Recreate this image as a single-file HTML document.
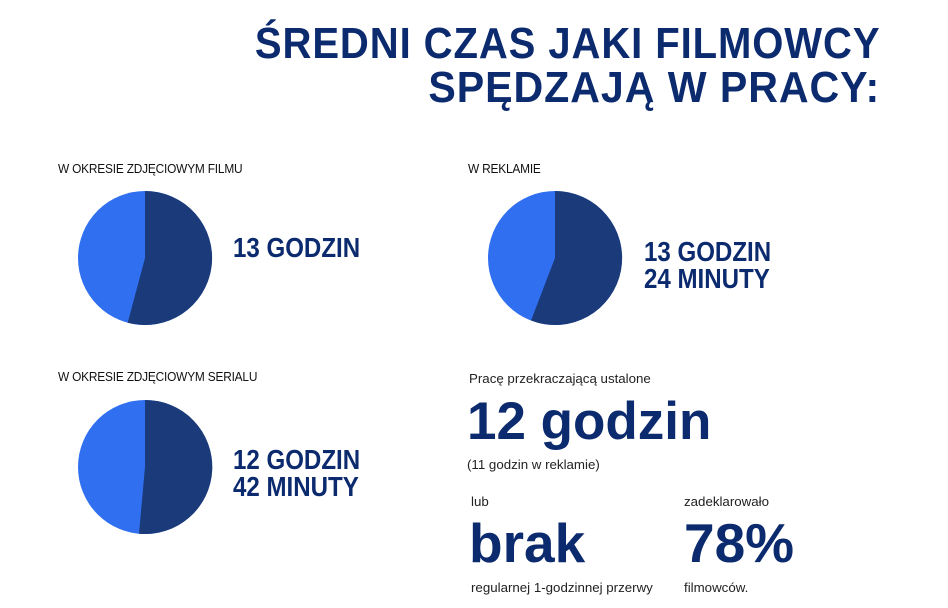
<!DOCTYPE html>
<html><head><meta charset="utf-8"><style>
body{margin:0;width:948px;height:608px;background:#fff;overflow:hidden;position:relative;font-family:"Liberation Sans",sans-serif;color:#0c2a6e}
.a{position:absolute;white-space:nowrap}
.t{font-weight:bold;font-size:44px;right:68px;text-align:right;letter-spacing:1px;line-height:44px;transform:scaleX(0.91);transform-origin:right center}
.l{font-size:12.5px;color:#111;letter-spacing:-0.2px;transform:scaleX(0.95);transform-origin:left center}
.g{font-weight:bold;font-size:28px;line-height:27px;color:#0c2a6e;transform:scaleX(0.86);transform-origin:left center}
.s{font-size:13.3px;color:#222}
.b{font-weight:bold;font-size:55px;line-height:60px}
</style></head><body>
<div class="a t" style="top:22px">ŚREDNI CZAS JAKI FILMOWCY</div>
<div class="a t" style="top:66px;transform:scaleX(0.935)">SPĘDZAJĄ W PRACY:</div>

<div class="a l" style="left:58px;top:162px">W OKRESIE ZDJĘCIOWYM FILMU</div>
<div class="a l" style="left:468px;top:162px">W REKLAMIE</div>
<div class="a l" style="left:58px;top:370px">W OKRESIE ZDJĘCIOWYM SERIALU</div>

<svg class="a" style="left:0;top:0" width="948" height="608">
<circle cx="145" cy="258" r="67" fill="#2f6ff0"/>
<path d="M145 258 L145 191 A67 67 0 1 1 127.7 322.7 Z" fill="#1b3a7a"/>
<circle cx="555" cy="258" r="67" fill="#2f6ff0"/>
<path d="M555 258 L555 191 A67 67 0 1 1 531 320.5 Z" fill="#1b3a7a"/>
<circle cx="145" cy="467" r="67" fill="#2f6ff0"/>
<path d="M145 467 L145 400 A67 67 0 1 1 139 533.7 Z" fill="#1b3a7a"/>
</svg>

<div class="a g" style="left:233px;top:234px">13 GODZIN</div>
<div class="a g" style="left:644px;top:238px">13 GODZIN<br>24 MINUTY</div>
<div class="a g" style="left:233px;top:446px">12 GODZIN<br>42 MINUTY</div>

<div class="a s" style="left:469px;top:371px">Pracę przekraczającą ustalone</div>
<div class="a b" style="left:467px;top:392px;font-size:53px">12 godzin</div>
<div class="a s" style="left:467px;top:457px">(11 godzin w reklamie)</div>
<div class="a s" style="left:471px;top:494px">lub</div>
<div class="a s" style="left:684px;top:494px">zadeklarowało</div>
<div class="a b" style="left:469px;top:513px">brak</div>
<div class="a b" style="left:684px;top:513px">78%</div>
<div class="a s" style="left:471px;top:580px">regularnej 1-godzinnej przerwy</div>
<div class="a s" style="left:684px;top:580px">filmowców.</div>
</body></html>
